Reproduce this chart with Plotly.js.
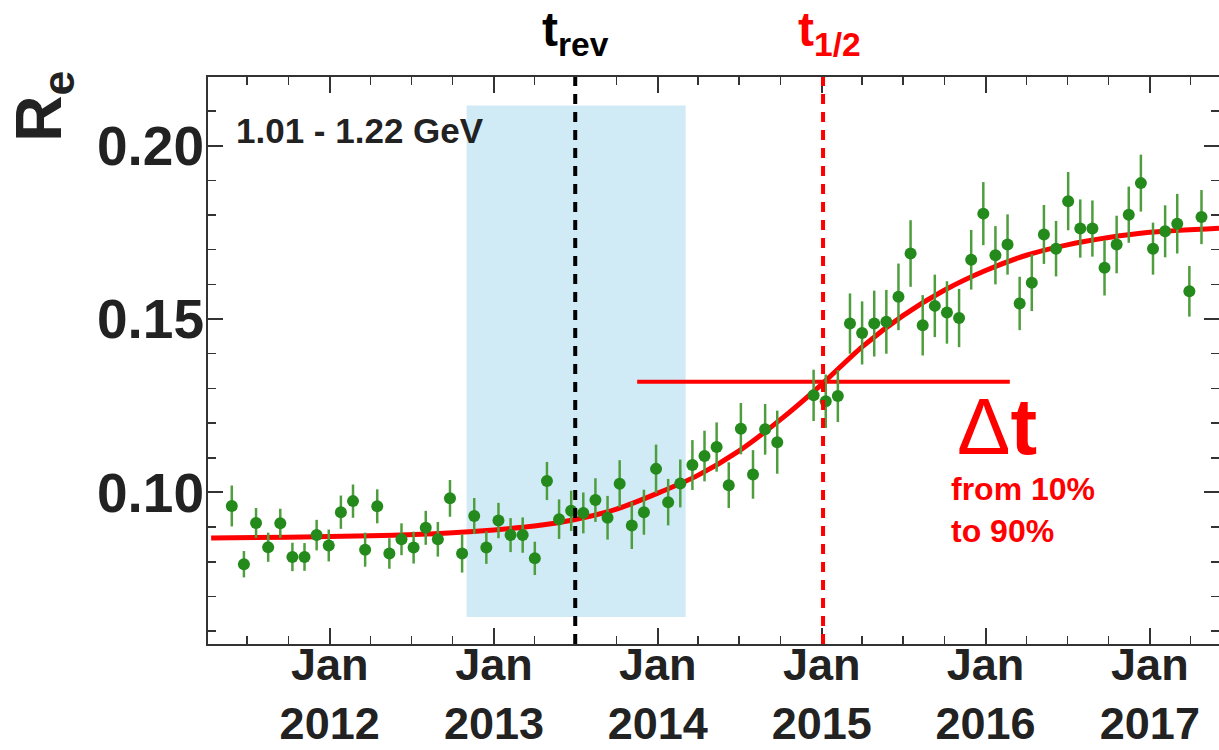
<!DOCTYPE html>
<html><head><meta charset="utf-8">
<script src="https://cdn.plot.ly/plotly-3.0.1.min.js"></script>
<style>html,body{margin:0;padding:0;background:#ffffff;} #chart{width:1219px;height:750px;}</style>
</head><body><div id="chart"></div>
<script>
// ---- data ----
const pointDates = [
'2011-05-28','2011-06-24','2011-07-21','2011-08-17','2011-09-13','2011-10-10','2011-11-06','2011-12-03','2011-12-30','2012-01-26',
'2012-02-22','2012-03-20','2012-04-16','2012-05-13','2012-06-09','2012-07-06','2012-08-02','2012-08-29','2012-09-25','2012-10-22',
'2012-11-18','2012-12-15','2013-01-11','2013-02-07','2013-03-06','2013-04-02','2013-04-29','2013-05-26','2013-06-22','2013-07-19',
'2013-08-15','2013-09-11','2013-10-08','2013-11-04','2013-12-01','2013-12-28','2014-01-24','2014-02-20','2014-03-19','2014-04-15',
'2014-05-12','2014-06-08','2014-07-05','2014-08-01','2014-08-28','2014-09-24',
'2014-12-14','2015-01-10','2015-02-06','2015-03-05','2015-04-01','2015-04-28','2015-05-25','2015-06-21','2015-07-18','2015-08-14',
'2015-09-10','2015-10-07','2015-11-03','2015-11-30','2015-12-27','2016-01-23','2016-02-19','2016-03-17','2016-04-13','2016-05-10',
'2016-06-06','2016-07-03','2016-07-30','2016-08-26','2016-09-22','2016-10-19','2016-11-15','2016-12-12','2017-01-08','2017-02-04',
'2017-03-03','2017-03-30','2017-04-26'];
const pointValues = [
0.0961,0.0793,0.0912,0.0842,0.0911,0.0814,0.0814,0.0877,0.0847,0.0943,
0.0975,0.0835,0.0960,0.0824,0.0865,0.0841,0.0898,0.0865,0.0983,0.0824,
0.0932,0.0841,0.0919,0.0877,0.0877,0.0810,0.1033,0.0923,0.0947,0.0941,
0.0978,0.0927,0.1025,0.0905,0.0943,0.1068,0.0972,0.1026,0.1079,0.1105,
0.1131,0.1021,0.1184,0.1052,0.1182,0.1145,
0.1280,0.1263,0.1278,0.1487,0.1460,0.1487,0.1492,0.1564,0.1689,0.1482,
0.1538,0.1519,0.1503,0.1671,0.1804,0.1684,0.1715,0.1545,0.1605,0.1744,
0.1703,0.1840,0.1761,0.1761,0.1648,0.1715,0.1801,0.1892,0.1703,0.1753,
0.1775,0.1580,0.1794];
const pointErrors = [
0.0059,0.0038,0.0043,0.0042,0.0042,0.0041,0.0040,0.0044,0.0046,0.0048,
0.0048,0.0049,0.0049,0.0044,0.0046,0.0046,0.0049,0.0050,0.0053,0.0055,
0.0052,0.0047,0.0051,0.0049,0.0051,0.0048,0.0055,0.0057,0.0058,0.0059,
0.0063,0.0063,0.0068,0.0068,0.0065,0.0070,0.0067,0.0069,0.0072,0.0073,
0.0071,0.0066,0.0074,0.0070,0.0073,0.0091,
0.0074,0.0077,0.0075,0.0087,0.0091,0.0095,0.0092,0.0096,0.0096,0.0087,
0.0090,0.0090,0.0084,0.0086,0.0091,0.0084,0.0087,0.0077,0.0082,0.0085,
0.0080,0.0084,0.0084,0.0081,0.0080,0.0083,0.0081,0.0082,0.0075,0.0075,
0.0086,0.0073,0.0078];

const fitDates = ['2011-04-12','2011-10-01','2012-04-01','2012-10-01','2013-01-01','2013-04-01','2013-07-01','2013-10-01',
'2014-01-01','2014-04-01','2014-07-01','2014-10-01','2015-01-01','2015-04-01','2015-07-01','2015-10-01',
'2016-01-01','2016-04-01','2016-07-01','2016-10-01','2017-01-01','2017-06-04'];
const fitValues = [0.0869,0.0871,0.0875,0.0884,0.0892,0.0903,0.0922,0.0952,
0.0998,0.1050,0.1120,0.1210,0.1312,0.1420,0.1510,0.1583,
0.1640,0.1684,0.1714,0.1735,0.1750,0.1762];

const xRange = ['2011-04-05','2017-06-04'];
const yRange = [0.0563, 0.2198];
const xTickDates = ['2012-01-01','2013-01-01','2014-01-01','2015-01-01','2016-01-01','2017-01-01'];
const xTickLabels = ['Jan<br>2012','Jan<br>2013','Jan<br>2014','Jan<br>2015','Jan<br>2016','Jan<br>2017'];
const yTickValues = [0.10, 0.15, 0.20];
const yTickLabels = ['0.10','0.15','0.20'];

const tRev = '2013-07-01';
const tHalf = '2015-01-04';
const bandX = ['2012-11-01','2014-03-04'];
const bandY = [0.0641, 0.2116];
const deltaX = ['2013-11-16','2016-02-24'];
const deltaY = [0.1319, 0.1319];
const energyLabel = '1.01 - 1.22 GeV';

// ---- drawing ----
const FONT = 'Liberation Sans, Arial, Helvetica, sans-serif';
const INK = '#222222';
const RED = '#ff0000';

const traces = [
  {x: fitDates, y: fitValues, type: 'scatter', mode: 'lines',
   line: {color: RED, width: 5, shape: 'spline', smoothing: 0.8}, hoverinfo: 'skip', showlegend: false},
  {x: deltaX, y: deltaY, type: 'scatter', mode: 'lines',
   line: {color: RED, width: 4}, hoverinfo: 'skip', showlegend: false},
  {x: pointDates, y: pointValues, type: 'scatter', mode: 'markers',
   marker: {color: '#248a1c', size: 12},
   error_y: {type: 'data', array: pointErrors, visible: true, color: '#4e9e3e', thickness: 2.5, width: 0},
   showlegend: false}
];

const axisCommon = {
  showgrid: false, zeroline: false, showline: true, linecolor: '#333333', linewidth: 2,
  ticks: 'inside', tickcolor: '#333333', tickwidth: 2, mirror: 'ticks'
};

const layout = {
  width: 1219, height: 750,
  margin: {l: 208, r: 0, t: 77, b: 106, pad: 0},
  paper_bgcolor: '#ffffff', plot_bgcolor: '#ffffff',
  showlegend: false,
  xaxis: Object.assign({}, axisCommon, {
    type: 'date', range: xRange, tickmode: 'array', tickvals: xTickDates, ticktext: xTickLabels,
    ticklen: 16, ticklabelstandoff: -20,
    tickfont: {family: FONT, size: 45, color: INK, weight: 'bold'},
    minor: {ticks: 'inside', dtick: 'M3', tick0: '2011-01-01', ticklen: 8, tickwidth: 1.5, tickcolor: '#333333', showgrid: false}
  }),
  yaxis: Object.assign({}, axisCommon, {
    range: yRange, tickmode: 'array', tickvals: yTickValues, ticktext: yTickLabels,
    ticklen: 15, ticklabelstandoff: -9,
    tickfont: {family: FONT, size: 55, color: INK, weight: 'bold'},
    minor: {ticks: 'inside', dtick: 0.01, tick0: 0, ticklen: 8, tickwidth: 1.5, tickcolor: '#333333', showgrid: false}
  }),
  shapes: [
    {type: 'rect', xref: 'x', yref: 'y', x0: bandX[0], x1: bandX[1], y0: bandY[0], y1: bandY[1],
     fillcolor: '#d0ebf6', line: {width: 0}, layer: 'below'},
    {type: 'line', xref: 'x', yref: 'paper', x0: tRev, x1: tRev, y0: 0, y1: 1,
     line: {color: '#000000', width: 4, dash: '10px,8px'}, layer: 'above'},
    {type: 'line', xref: 'x', yref: 'paper', x0: tHalf, x1: tHalf, y0: 0, y1: 1,
     line: {color: RED, width: 4, dash: '10px,8px'}, layer: 'above'}
  ],
  annotations: [
    {xref: 'paper', yref: 'paper', x: -0.205, y: 1.015, text: 'R<sub>e</sub>', textangle: -90,
     showarrow: false, font: {family: FONT, size: 64, color: INK, weight: 'bold'}},
    {xref: 'paper', yref: 'paper', x: 0.026, y: 0.906, xanchor: 'left', yanchor: 'middle', text: energyLabel,
     showarrow: false, font: {family: FONT, size: 35, color: INK, weight: 'bold'}},
    {xref: 'x', yref: 'paper', x: tRev, y: 1.077, xanchor: 'center', yanchor: 'middle', text: 't<sub>rev</sub>',
     showarrow: false, font: {family: FONT, size: 48, color: '#000000', weight: 'bold'}},
    {xref: 'x', yref: 'paper', x: tHalf, y: 1.077, xanchor: 'center', yanchor: 'middle', xshift: 6, text: 't<sub>1/2</sub>',
     showarrow: false, font: {family: FONT, size: 48, color: RED, weight: 'bold'}},
    {xref: 'paper', yref: 'paper', x: 0.7804, y: 0.384, xanchor: 'center', yanchor: 'middle',
     text: '<span style="font-weight:normal">Δ</span>t',
     showarrow: false, font: {family: FONT, size: 80, color: RED, weight: 'bold'}},
    {xref: 'paper', yref: 'paper', x: 0.733, y: 0.236, xanchor: 'left', yanchor: 'middle', align: 'left',
     text: 'from 10%<br>to 90%',
     showarrow: false, font: {family: FONT, size: 32, color: RED, weight: 'bold'}}
  ]
};

Plotly.newPlot('chart', traces, layout, {displayModeBar: false, staticPlot: true});
</script>
</body></html>
